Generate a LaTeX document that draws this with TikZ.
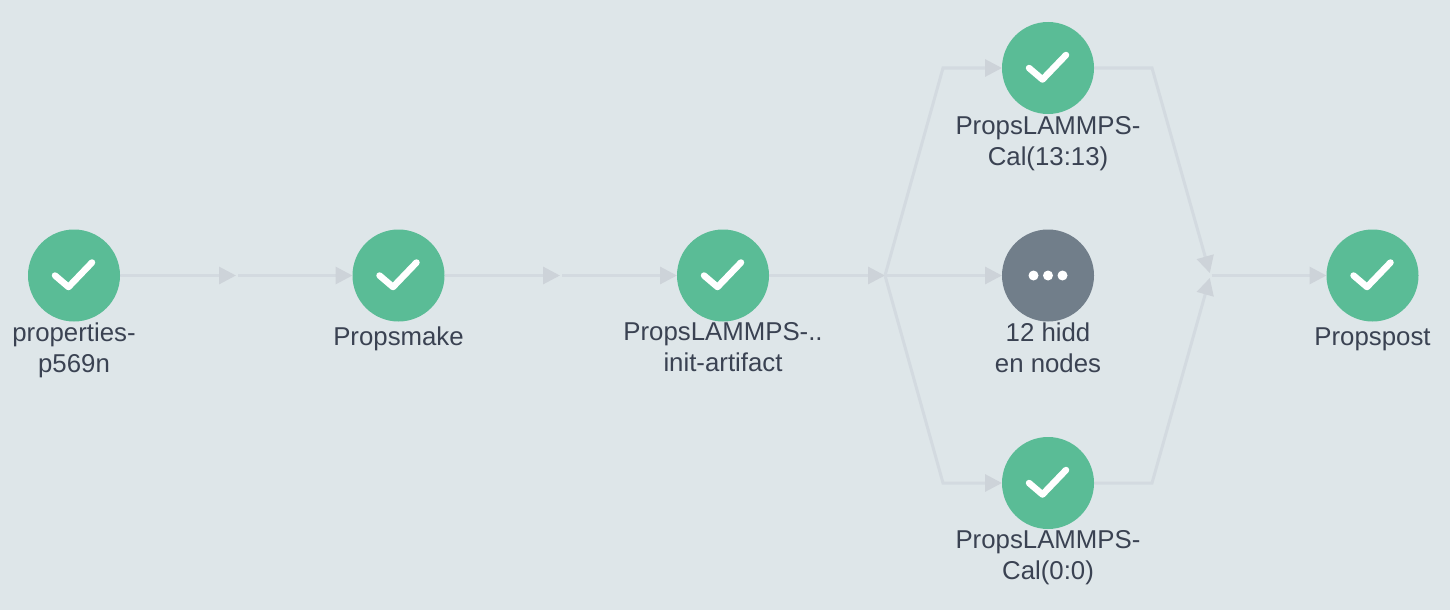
\documentclass[tikz,border=0pt]{standalone}
\usepackage{fontspec}
\setmainfont{Liberation Sans}
\usetikzlibrary{arrows.meta,backgrounds}
\definecolor{bgc}{HTML}{DEE6E9}
\definecolor{okc}{HTML}{5ABC96}
\definecolor{hidc}{HTML}{717E8A}
\definecolor{linec}{HTML}{D3DAE0}
\definecolor{textc}{HTML}{3A4252}
\tikzset{
  x=1pt,y=-1pt,
  wfnode/.style={circle,inner sep=0pt,outer sep=0pt,minimum size=92pt,fill=#1},
  wflabel/.style={text=textc,font=\fontsize{25.8}{31}\selectfont,align=center,inner sep=0pt,outer sep=0pt},
  wfedge/.style={draw=linec,line width=3pt,line join=miter},
  wftip/.style={-{Triangle[length=17pt,width=17pt,color=linec!97!black]}},
  wfcheck/.style={draw=white,line width=6.5pt,line cap=round,line join=round},
}
\newcommand{\wfchk}[1]{\draw[wfcheck] ([shift={(-19,0)}]#1.center) -- ([shift={(-5.5,11.5)}]#1.center) -- ([shift={(18,-13)}]#1.center);}
\begin{document}
\begin{tikzpicture}
\useasboundingbox (0,0) rectangle (1450,610);
% nodes
\node[wfnode=okc] (n1) at (74,275.5) {};
\node[wfnode=okc] (n2) at (398.5,275.5) {};
\node[wfnode=okc] (n3) at (723,275.5) {};
\node[wfnode=okc] (top) at (1048,68) {};
\node[wfnode=hidc] (mid) at (1048,275.5) {};
\node[wfnode=okc] (bot) at (1048,483) {};
\node[wfnode=okc] (n5) at (1372.5,275.5) {};
% junctions
\coordinate (j1) at (236,275.5);
\coordinate (j2) at (560,275.5);
\coordinate (j3) at (885,275.5);
\coordinate (j4) at (1210.5,275.5);
\coordinate (tl) at (943,68);
\coordinate (tr) at (1152,68);
\coordinate (bl) at (943,483);
\coordinate (br) at (1152,483);
% connectors
\begin{scope}[on background layer]
\fill[bgc] (0,0) rectangle (1450,610);
\draw[wfedge,wftip] (n1) -- (j1);
\draw[wfedge,wftip,shorten <=2pt] (j1) -- (n2);
\draw[wfedge,wftip] (n2) -- (j2);
\draw[wfedge,wftip,shorten <=2pt] (j2) -- (n3);
\draw[wfedge,wftip] (n3) -- (j3);
\draw[wfedge,wftip] (j3) -- (mid);
\draw[wfedge,wftip] (j3) -- (tl) -- (top);
\draw[wfedge,wftip] (j3) -- (bl) -- (bot);
\draw[wfedge,wftip,shorten >=2.5pt] (top) -- (tr) -- (j4);
\draw[wfedge,wftip,shorten >=2.5pt] (bot) -- (br) -- (j4);
\draw[wfedge,wftip,shorten <=1pt] (j4) -- (n5);
\end{scope}
% glyphs
\wfchk{n1}\wfchk{n2}\wfchk{n3}\wfchk{top}\wfchk{bot}\wfchk{n5}
\fill[white] ([xshift=-14.5]mid.center) circle (5);
\fill[white] (mid.center) circle (5);
\fill[white] ([xshift=14.5]mid.center) circle (5);
% labels
\node[wflabel] (l1) at (74,350) {properties-\\p569n};
\node[wflabel] (l2) at (398.5,339) {Propsmake};
\node[wflabel] (l3) at (723,347.5) {PropsLAMMPS-..\\init-artifact};
\node[wflabel] (l4) at (1048,143.5) {PropsLAMMPS-\\Cal(13:13)};
\node[wflabel] (l5) at (1048,348) {12 hidd\\en nodes};
\node[wflabel] (l6) at (1048,557.5) {PropsLAMMPS-\\Cal(0:0)};
\node[wflabel] (l7) at (1372.5,339) {Propspost};
\end{tikzpicture}
\end{document}
